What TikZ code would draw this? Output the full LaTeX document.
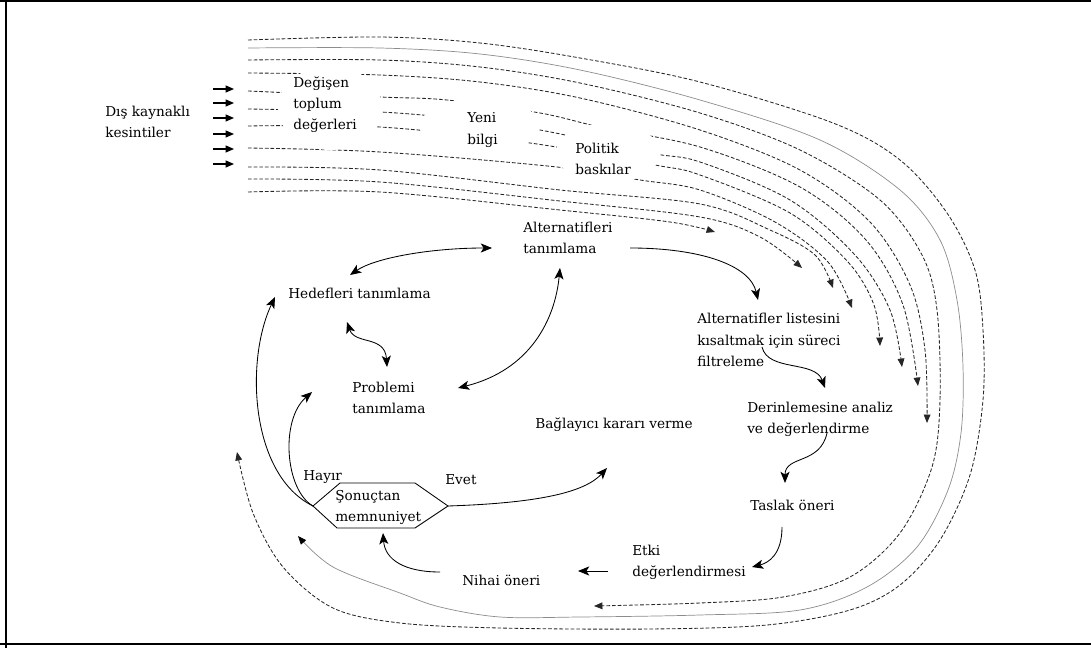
\documentclass[tikz,border=0pt]{standalone}
\usepackage{fontspec}
\setmainfont{DejaVu Serif}
\usetikzlibrary{arrows.meta}
\begin{document}
\begin{tikzpicture}[x=0.025cm,y=-0.025cm,
  lbl/.style={anchor=west,align=left,inner sep=0pt,font=\fontsize{9.7}{15}\selectfont},
  tip/.style={-{Stealth[length=8pt,width=6.5pt,inset=2pt]}},
  link/.style={line width=0.6pt,tip},
  twoway/.style={line width=0.6pt,{Stealth[length=8pt,width=6.5pt,inset=2pt]}-{Stealth[length=8pt,width=6.5pt,inset=2pt]}},
  disturb/.style={line width=0.6pt,black!85,dash pattern=on 2.6pt off 1.4pt,-{Triangle[length=6pt,width=4.8pt]}},
  feedback/.style={line width=0.5pt,black!45,-{Triangle[length=6pt,width=4.8pt,color=black]}},
  inarrow/.style={line width=0.8pt,-{Triangle[length=6pt,width=5pt]}}]

\useasboundingbox (0,0) rectangle (1091,648);

% frame
\draw[line width=1.6pt] (0,1) -- (1091,1);
\draw[line width=1.6pt] (6,0) -- (6,648);
\draw[line width=1.6pt] (0,644) -- (1091,644);

% external disturbances flowing through the process
\draw[disturb] plot[smooth,tension=0.55] coordinates {(248,40) (380,37) (480,43) (580,58) (700,82) (833,123) (900,160) (947,213) (975,270) (983,330) (983,400) (970,475) (940,540) (900,585) (850,610) (767,625) (650,629) (500,628) (400,623) (333,608) (283,567) (253,513) (237,452)};
\draw[feedback] plot[smooth,tension=0.55] coordinates {(248,48) (380,48) (480,54) (580,70) (700,100) (820,140) (900,190) (940,240) (957,300) (963,367) (961,433) (948,490) (917,547) (867,587) (800,610) (700,615) (580,617) (500,617) (440,607) (400,593) (333,567) (298,536)};
\draw[disturb] plot[smooth,tension=0.55] coordinates {(248,60) (380,60) (480,67) (580,83) (700,113) (800,150) (880,200) (922,255) (937,310) (940,400) (932,467) (900,533) (850,577) (783,597) (700,603) (594,606)};
\draw[disturb] plot[smooth,tension=0.55] coordinates {(248,73) (380,75) (480,82) (580,98) (700,130) (800,170) (870,222) (910,285) (925,350) (927,423)};
\draw[disturb] plot[smooth,tension=0.55] coordinates {(248,91) (380,97) (447,100) (540,113) (600,127) (700,147) (800,187) (866,240) (903,305) (918,386)};
\draw[disturb] plot[smooth,tension=0.55] coordinates {(248,109) (380,112) (470,120) (540,130) (650,153) (700,162) (790,200) (855,255) (890,310) (902,367)};
\draw[disturb] plot[smooth,tension=0.55] coordinates {(248,126) (380,127) (530,143) (655,165) (700,175) (790,213) (848,262) (874,305) (880,346)};
\draw[disturb] plot[smooth,tension=0.55] coordinates {(248,148) (380,152) (557,167) (640,180) (700,190) (775,222) (828,262) (852,308)};
\draw[disturb] plot[smooth,tension=0.55] coordinates {(248,167) (380,170) (560,190) (700,204) (770,230) (815,255) (833,288)};
\draw[disturb] plot[smooth,tension=0.55] coordinates {(248,179) (380,182) (560,201) (700,217) (760,237) (802,268)};
\draw[disturb] plot[smooth,tension=0.55] coordinates {(248,192) (380,192) (560,210) (670,222) (715,232)};

% clear space around the disturbance labels
\fill[white] (330,108) ellipse [x radius=1.3cm, y radius=1.05cm];
\fill[white] (480,126) ellipse [x radius=1.5cm, y radius=0.7cm];
\fill[white] (608,153) ellipse [x radius=1.3cm, y radius=0.75cm];

% labels
\node[lbl] (ext) at (105,122) {Dış kaynaklı\\kesintiler};
\node[lbl] (degisen) at (293,105) {Değişen\\toplum\\değerleri};
\node[lbl] (yeni) at (467,130) {Yeni\\bilgi};
\node[lbl] (politik) at (575,159) {Politik\\baskılar};
\node[lbl] (alt) at (523,238) {Alternatifleri\\tanımlama};
\node[lbl] (hedef) at (288,293) {Hedefleri tanımlama};
\node[lbl] (problem) at (352,398) {Problemi\\tanımlama};
\node[lbl] (baglay) at (535,425) {Bağlayıcı kararı verme};
\node[lbl] (filtre) at (697,340) {Alternatifler listesini\\kısaltmak için süreci\\filtreleme};
\node[lbl] (derin) at (747,419) {Derinlemesine analiz\\ve değerlendirme};
\node[lbl] (taslak) at (750,505) {Taslak öneri};
\node[lbl] (etki) at (632,562) {Etki\\değerlendirmesi};
\node[lbl] (nihai) at (462,580) {Nihai öneri};
\node[lbl] (hayir) at (303,477) {Hayır};
\node[lbl] (evet) at (445,480) {Evet};

% decision hexagon
\coordinate (hexL) at (313,506);
\coordinate (hexR) at (448,506);
\coordinate (hexB) at (383,533);
\draw[line width=0.6pt] (hexL) -- (340,483) -- (415,483) -- (hexR) -- (415,528) -- (337,528) -- cycle;
\node[lbl] (sonuc) at (335,507) {Şonuçtan\\memnuniyet};

% incoming disturbance arrows
\foreach \yy in {89,103,118,134,149,164}
  \draw[inarrow] (213,\yy) -- (234,\yy);

% process connectors
\coordinate (hedefTR) at (350,275);
\coordinate (altW) at (492,248);
\draw[twoway] (hedefTR) .. controls (375,258) and (430,248) .. (altW);
\coordinate (hedefS) at (347,322);
\coordinate (problemN) at (387,367);
\draw[twoway] (hedefS) .. controls (355,345) and (385,335) .. (problemN);
\coordinate (altS) at (560,268);
\coordinate (problemE) at (458,388);
\draw[twoway] (altS) .. controls (555,320) and (530,370) .. (problemE);
\coordinate (altE) at (630,248);
\coordinate (filtreN) at (758,300);
\draw[link] (altE) .. controls (700,248) and (750,265) .. (filtreN);
\coordinate (filtreS) at (762,347);
\coordinate (derinN) at (825,388);
\draw[link] (filtreS) .. controls (768,372) and (815,360) .. (derinN);
\coordinate (derinS) at (827,433);
\coordinate (taslakN) at (785,483);
\draw[link] (derinS) .. controls (820,465) and (785,455) .. (taslakN);
\coordinate (taslakS) at (782,527);
\coordinate (etkiE) at (752,567);
\draw[link] (taslakS) .. controls (782,555) and (768,563) .. (etkiE);
\coordinate (etkiW) at (608,571);
\coordinate (nihaiE) at (578,571);
\draw[link] (etkiW) -- (nihaiE);
\coordinate (nihaiW) at (440,572);
\draw[link] (nihaiW) .. controls (405,572) and (385,560) .. (hexB);
\coordinate (baglayS) at (607,468);
\draw[link] (hexR) .. controls (540,503) and (585,492) .. (baglayS);
\coordinate (hedefW) at (275,297);
\draw[link] (hexL) .. controls (250,475) and (245,360) .. (hedefW);
\coordinate (problemW) at (312,392);
\draw[link] (hexL) .. controls (285,490) and (280,420) .. (problemW);

\end{tikzpicture}
\end{document}
